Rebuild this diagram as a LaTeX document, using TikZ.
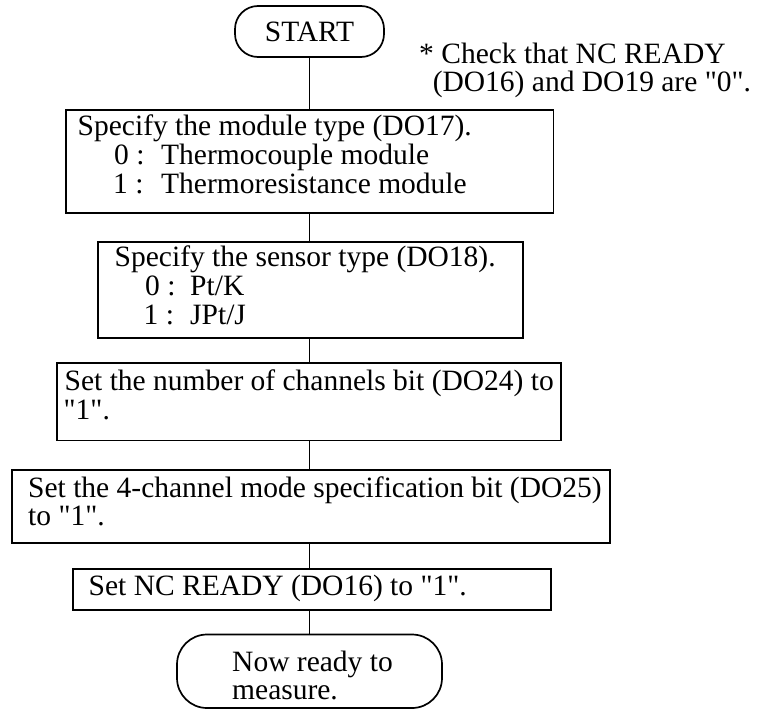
\documentclass[tikz,border=0pt]{standalone}
\usepackage{fontspec}
\setmainfont{Liberation Serif}[Ligatures=TeXOff]
\begin{document}
\begin{tikzpicture}[x=1pt,y=-1pt,
  box/.style={draw, line width=1.7pt, inner sep=0pt},
  term/.style={box, rounded corners=#1},
  tfont/.style={font=\fontsize{29.5}{29}\selectfont},
  txt/.style={tfont, inner sep=0pt, anchor=base west},
  link/.style={line width=1.6pt}]
\useasboundingbox (0,0) rectangle (759,709);

% START terminal
\node[term=23pt, tfont, minimum width=149pt, minimum height=51pt] (st) at (309.5,31.5) {START};

% note
\node[txt] (n1) at (419,63.3) {* Check that NC READY};
\node[txt] (n2) at (432.6,91.7) {(DO16) and DO19 are "0".};

% box 1
\node[box, minimum width=487.8pt, minimum height=103pt] (b1) at (309.6,161.5) {};
\node[txt] (b1a) at (77.5,135) {Specify the module type (DO17).};
\node[txt] (b1b) at (114,164) {0 :};
\node[txt] (b1c) at (161,164) {Thermocouple module};
\node[txt] (b1d) at (113,193.3) {1 :};
\node[txt] (b1e) at (161,193.3) {Thermoresistance module};

% box 2
\node[box, minimum width=425pt, minimum height=96pt] (b2) at (310.2,289.7) {};
\node[txt] (b2a) at (114.5,266) {Specify the sensor type (DO18).};
\node[txt] (b2b) at (145,295) {0 :};
\node[txt] (b2c) at (190,295) {Pt/K};
\node[txt] (b2d) at (143.5,324.5) {1 :};
\node[txt] (b2e) at (190,324.5) {JPt/J};

% box 3
\node[box, minimum width=503.4pt, minimum height=77.5pt] (b3) at (309,401.75) {};
\node[txt] (b3a) at (64.5,390) {Set the number of channels bit (DO24) to};
\node[txt] (b3b) at (63.5,419) {"1".};

% box 4
\node[box, minimum width=597.7pt, minimum height=73pt] (b4) at (311.15,506.5) {};
\node[txt] (b4a) at (28,497) {Set the 4-channel mode specification bit (DO25)};
\node[txt] (b4b) at (28,525) {to "1".};

% box 5
\node[box, minimum width=478pt, minimum height=41pt] (b5) at (312,589.5) {};
\node[txt] (b5a) at (88.5,595) {Set NC READY (DO16) to "1".};

% end terminal
\node[term=30pt, minimum width=265pt, minimum height=73.5pt] (en) at (309.5,671.25) {};
\node[txt] (ena) at (232,671) {Now ready to};
\node[txt] (enb) at (232,699) {measure.};

% connectors
\draw[link] (st.south) -- (st.south |- b1.north);
\draw[link] (b1.south -| st.south) -- (b2.north -| st.south);
\draw[link] (b2.south -| st.south) -- (b3.north -| st.south);
\draw[link] (b3.south -| st.south) -- (b4.north -| st.south);
\draw[link] (b4.south -| st.south) -- (b5.north -| st.south);
\draw[link] (b5.south -| st.south) -- (en.north -| st.south);
\end{tikzpicture}
\end{document}
